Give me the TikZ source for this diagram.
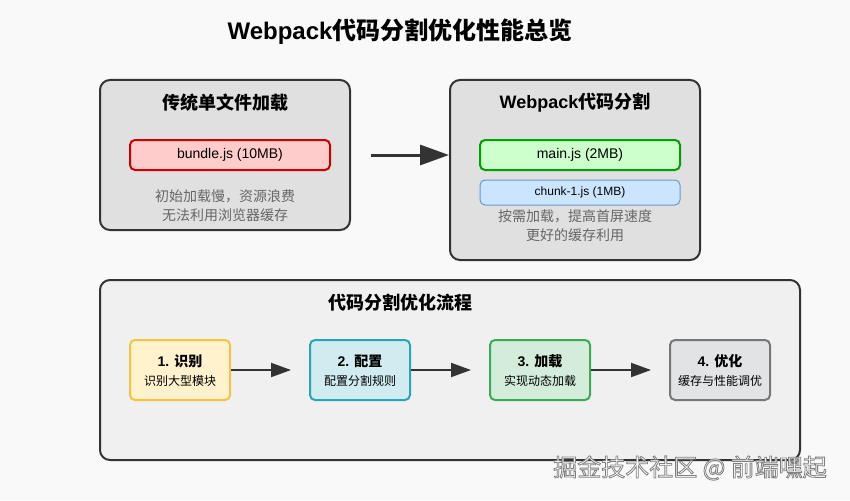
\documentclass[tikz,border=0pt]{standalone}
\usepackage{fontspec}
\setmainfont{Liberation Sans}
\newfontfamily\cjk{Noto Sans CJK SC}
\usetikzlibrary{decorations.markings,arrows.meta,positioning}
\definecolor{bg}{HTML}{F9F9F9}
\definecolor{frame}{HTML}{333333}
\definecolor{panelfill}{HTML}{E0E0E0}
\definecolor{flowfill}{HTML}{F0F0F0}
\definecolor{notegray}{HTML}{666666}
\definecolor{redfill}{HTML}{FFCCCC}
\definecolor{reddraw}{HTML}{CC0000}
\definecolor{greenfill}{HTML}{CCFFCC}
\definecolor{greendraw}{HTML}{00A000}
\definecolor{bluefill}{HTML}{CCE5FF}
\definecolor{bluedraw}{HTML}{6699CC}
\definecolor{yfill}{HTML}{FFF2CC}
\definecolor{ydraw}{HTML}{F5C342}
\definecolor{cfill}{HTML}{D1ECF1}
\definecolor{cdraw}{HTML}{2BA3B8}
\definecolor{gfill}{HTML}{D4EDDA}
\definecolor{gdraw}{HTML}{3CAA55}
\definecolor{dfill}{HTML}{E2E3E5}
\definecolor{ddraw}{HTML}{777777}
\newcommand\outlined[1]{\special{pdf:literal direct 2 Tr 0.8 w 0.5 G}#1\special{pdf:literal direct 0 Tr}}
\tikzset{flow/.style = {line width=2pt, draw=frame, shorten >=8pt,
                        decoration={markings,
                                    mark=at position 1 with {\arrow[frame]{Triangle[length=20pt,width=14pt]}}},
                        postaction={decorate}}}
\tikzset{bigflow/.style = {line width=3pt, draw=frame, shorten >=12pt,
                           decoration={markings,
                                       mark=at position 1 with {\arrow[frame]{Triangle[length=29pt,width=20pt]}}},
                           postaction={decorate}}}
\tikzset{panel/.style = {draw=frame, line width=2pt, rounded corners=10pt, fill=panelfill},
         head/.style = {inner sep=0, font=\bfseries\fontsize{18}{22}\selectfont},
         file/.style = {line width=2pt, rounded corners=5pt, minimum width=200pt, minimum height=30pt,
                        inner sep=0, font=\fontsize{14}{17}\selectfont},
         note/.style = {inner sep=0, align=center, text=notegray, font=\cjk\fontsize{14}{19.5}\selectfont},
         stepbox/.style = {line width=2pt, rounded corners=5pt, minimum width=100pt, minimum height=60pt},
         stepname/.style = {inner sep=0, font=\bfseries\fontsize{14}{17}\selectfont},
         steptext/.style = {inner sep=0, font=\cjk\fontsize{12}{15}\selectfont},
         wm/.style = {inner sep=0, text=white, font=\cjk\fontsize{24}{28}\selectfont}}
\begin{document}
\begin{tikzpicture}[x=1pt, y=-1pt]
  \fill [bg] (0, 0) rectangle (850, 500);
  \useasboundingbox (0, 0) rectangle (850, 500);

  \node [inner sep=0, font=\bfseries\fontsize{24}{28}\selectfont] (title) at (400, 32) {Webpack\cjk 代码分割优化性能总览};

  \node [panel, minimum width=250pt, minimum height=150pt] (legacy) at (225, 155) {};
  \node [head] (legacyhead) at (225, 103) {\cjk 传统单文件加载};
  \node [file, fill=redfill, draw=reddraw] (bundle) at (230, 155) {bundle.js (10MB)};
  \node [note] (legacynote) at (225, 205.5) {初始加载慢，资源浪费\\无法利用浏览器缓存};

  \node [panel, minimum width=250pt, minimum height=180pt] (split) at (575, 170) {};
  \node [head] (splithead) at (575, 103) {Webpack\cjk 代码分割};
  \node [file, fill=greenfill, draw=greendraw] (mainjs) at (580, 155) {main.js (2MB)};
  \node [file, line width=1pt, fill=bluefill, draw=bluedraw, minimum height=25pt,
         font=\fontsize{12}{15}\selectfont] (chunk) at (580, 192.5) {chunk-1.js (1MB)};
  \node [note] (splitnote) at (575, 225.5) {按需加载，提高首屏速度\\更好的缓存利用};

  \draw [bigflow] ([xshift=20pt]legacy.east) -- (legacy.east -| split.west);

  \node [panel, fill=flowfill, minimum width=700pt, minimum height=180pt] (process) at (450, 370) {};
  \node [head] (processhead) at (400, 303) {\cjk 代码分割优化流程};

  \foreach \n/\x/\f/\d/\t/\s in {1/180/yfill/ydraw/识别/识别大型模块,
                                 2/360/cfill/cdraw/配置/配置分割规则,
                                 3/540/gfill/gdraw/加载/实现动态加载,
                                 4/720/dfill/ddraw/优化/缓存与性能调优} {
    \node [stepbox, fill=\f, draw=\d] (s\n) at (\x, 370) {};
    \node [stepname] (s\n name) at ([yshift=9pt]s\n.center) {\n. {\cjk\t}};
    \node [steptext] (s\n text) at ([yshift=-11pt]s\n.center) {\s};
  }

  \foreach \a/\b in {s1/s2, s2/s3, s3/s4}
    \draw [flow] (\a.east) -- ([xshift=-18pt]\b.west);

  \node [wm] (mark) at (690, 468) {\outlined{掘金技术社区 @ 前端嘿起}};
\end{tikzpicture}
\end{document}
